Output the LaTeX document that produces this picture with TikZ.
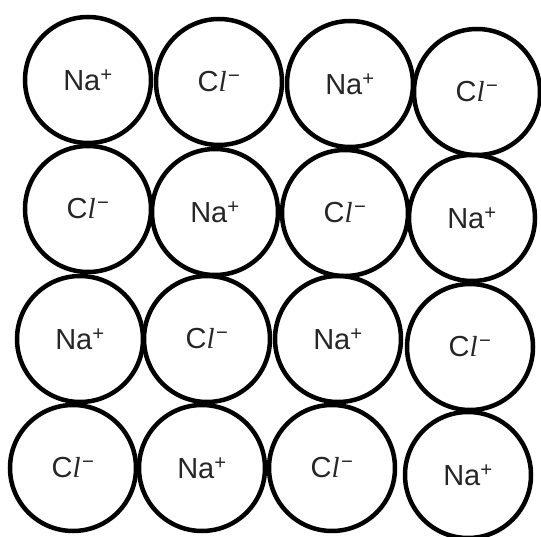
\documentclass[tikz,border=0pt]{standalone}
\usepackage{fontspec}
\setmainfont{Liberation Sans}
\newfontfamily\lserif{Liberation Serif}
\newcommand{\Naion}{Na\textsuperscript{+}}
\newcommand{\Clion}{C{\lserif\itshape l}\kern1.5pt\textsuperscript{−}}
\begin{document}
\begin{tikzpicture}[x=1pt,y=-1pt,
  ion/.style={circle,draw=black,line width=4.5pt,minimum size=126pt,inner sep=0pt,
    text=black!85,font=\fontsize{29}{32}\selectfont}]
\useasboundingbox (0,0) rectangle (541,537);
\node[ion] (r1c1) at (88,80) {\Naion};
\node[ion] (r1c2) at (219,82) {\Clion};
\node[ion] (r1c3) at (350,84) {\Naion};
\node[ion] (r1c4) at (477,92) {\Clion};
\node[ion] (r2c1) at (88,209) {\Clion};
\node[ion] (r2c2) at (215,212) {\Naion};
\node[ion] (r2c3) at (345,213) {\Clion};
\node[ion] (r2c4) at (472,218) {\Naion};
\node[ion] (r3c1) at (80,339) {\Naion};
\node[ion] (r3c2) at (207,339) {\Clion};
\node[ion] (r3c3) at (338,339) {\Naion};
\node[ion] (r3c4) at (470,347) {\Clion};
\node[ion] (r4c1) at (73,468) {\Clion};
\node[ion] (r4c2) at (202,468) {\Naion};
\node[ion] (r4c3) at (332,468) {\Clion};
\node[ion] (r4c4) at (468,475) {\Naion};
\end{tikzpicture}
\end{document}
